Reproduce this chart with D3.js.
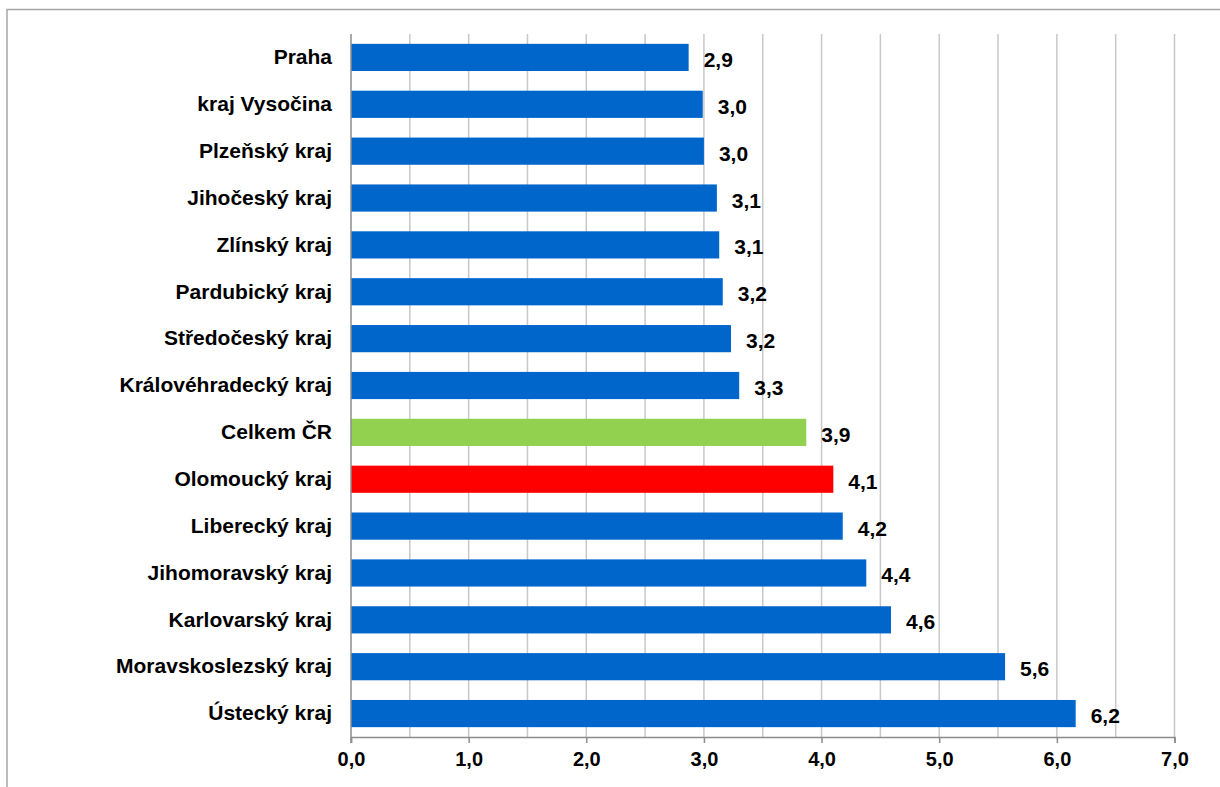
<!DOCTYPE html>
<html>
<head>
<meta charset="utf-8">
<script src="https://cdn.jsdelivr.net/npm/d3@7"></script>
<style>
  body { margin: 0; background: #fff; }
  text { font-family: "Liberation Sans", Arial, sans-serif; font-weight: bold; fill: #000; }
</style>
</head>
<body>
<div id="chart"></div>
<script>
var regions = ["Praha", "kraj Vysočina", "Plzeňský kraj", "Jihočeský kraj", "Zlínský kraj",
	"Pardubický kraj", "Středočeský kraj", "Královéhradecký kraj", "Celkem ČR", "Olomoucký kraj",
	"Liberecký kraj", "Jihomoravský kraj", "Karlovarský kraj", "Moravskoslezský kraj", "Ústecký kraj"];
var values = [2.87, 2.99, 3.00, 3.11, 3.13, 3.16, 3.23, 3.30, 3.87, 4.10, 4.18, 4.38, 4.59, 5.56, 6.16];
var xTicks = [0, 1, 2, 3, 4, 5, 6, 7];
var gridTicks = [0.5, 1, 1.5, 2, 2.5, 3, 3.5, 4, 4.5, 5, 5.5, 6, 6.5, 7];

var width = 1220, height = 787;
var margin = { left: 351, right: 45.5, top: 34, bottom: 50 };

var svg = d3.select("#chart").append("svg")
	.attr("width", width)
	.attr("height", height);

// outer frame, runs off the right and bottom edge
svg.append("rect")
	.attr("x", 7).attr("y", 9.5)
	.attr("width", width).attr("height", height)
	.attr("fill", "none")
	.attr("stroke", "#a6a6a6")
	.attr("stroke-width", 1.5);

var x = d3.scaleLinear().domain([0, 7]).range([margin.left, width - margin.right]);
var y = d3.scaleBand().domain(regions)
	.range([margin.top, height - margin.bottom])
	.paddingInner(0.42).paddingOuter(0.21);

var axisY = height - margin.bottom;

svg.append("g").attr("class", "grid")
	.selectAll("line").data(gridTicks).enter().append("line")
	.attr("x1", function(d) { return x(d); })
	.attr("x2", function(d) { return x(d); })
	.attr("y1", margin.top).attr("y2", axisY)
	.attr("stroke", "#c8c8c8")
	.attr("stroke-width", 1.5);

function barColor(name) {
	if (name === "Celkem ČR") return "#92d050";
	if (name === "Olomoucký kraj") return "#ff0000";
	return "#0066cc";
}

svg.append("g").selectAll("rect").data(regions).enter().append("rect")
	.attr("x", x(0))
	.attr("y", function(d) { return y(d); })
	.attr("width", function(d, i) { return x(values[i]) - x(0); })
	.attr("height", y.bandwidth())
	.attr("fill", function(d) { return barColor(d); });

svg.append("g").selectAll("text").data(regions).enter().append("text")
	.attr("x", function(d, i) { return x(values[i]) + 15; })
	.attr("y", function(d) { return y(d) + y.bandwidth() / 2 + 2; })
	.attr("dominant-baseline", "central")
	.style("font-size", "21px")
	.text(function(d, i) { return values[i].toFixed(1).replace(".", ","); });

// x axis
var xAxis = d3.axisBottom(x)
	.tickValues(xTicks)
	.tickSize(6)
	.tickPadding(9)
	.tickFormat(function(d) { return d.toFixed(1).replace(".", ","); });

var gx = svg.append("g")
	.attr("transform", "translate(0," + axisY + ")")
	.call(xAxis);
gx.select(".domain").attr("stroke", "#8c8c8c").attr("stroke-width", 1.5);
gx.selectAll(".tick line").attr("stroke", "#8c8c8c").attr("stroke-width", 1.5);
gx.selectAll(".tick text")
	.style("font-size", "20px")
	.style("font-family", "'Liberation Sans', Arial, sans-serif")
	.style("font-weight", "bold")
	.attr("fill", "#000");

// y axis
var yAxis = d3.axisLeft(y).tickSize(0).tickPadding(19);
var gy = svg.append("g")
	.attr("transform", "translate(" + margin.left + ",0)")
	.call(yAxis);
gy.select(".domain").remove();
gy.selectAll(".tick text")
	.style("font-size", "21px")
	.style("font-family", "'Liberation Sans', Arial, sans-serif")
	.style("font-weight", "bold")
	.attr("fill", "#000");

svg.append("line")
	.attr("x1", margin.left).attr("x2", margin.left)
	.attr("y1", margin.top).attr("y2", axisY + 6)
	.attr("stroke", "#8c8c8c")
	.attr("stroke-width", 1.5);
</script>
</body>
</html>
